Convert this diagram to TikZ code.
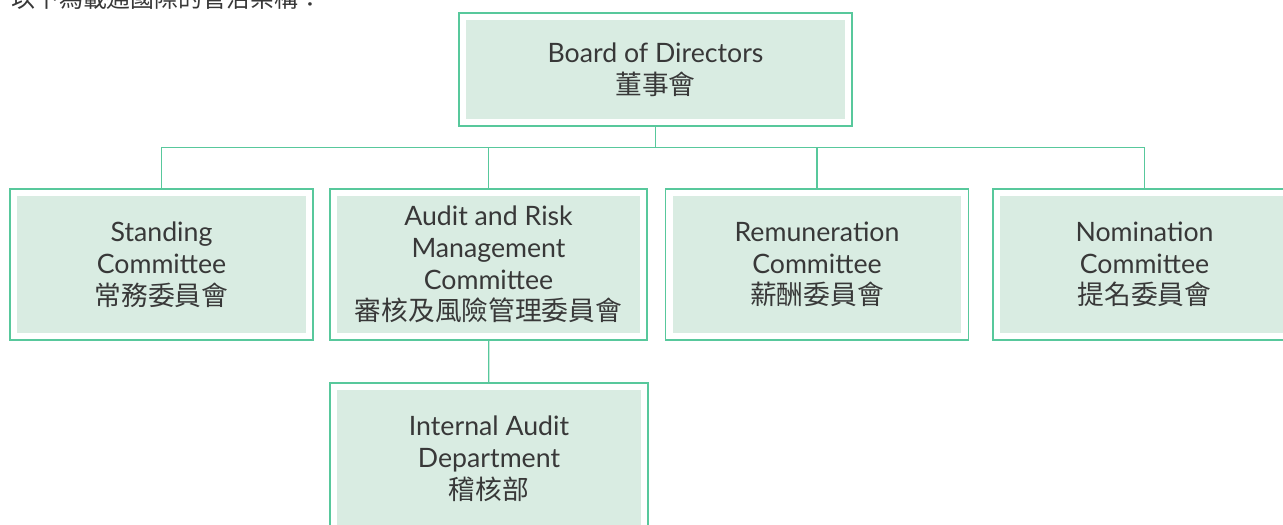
\documentclass[tikz,border=0pt]{standalone}
\usepackage{fontspec}
\setmainfont{Lato}
\newfontfamily\cjk{Noto Sans CJK TC}
\definecolor{boxline}{RGB}{88,200,156}
\definecolor{boxfill}{RGB}{217,236,226}
\definecolor{textgrey}{RGB}{56,56,56}

\begin{document}
\begin{tikzpicture}[x=0.02cm, y=-0.02cm,
		unit/.style={draw=boxline, line width=0.7pt, fill=white, align=center,
			text=textgrey, font=\fontsize{15.2}{18.1}\selectfont,
			minimum width=6.06cm, minimum height=3.02cm, inner sep=0pt,
			path picture={\fill[boxfill] ([shift={(4pt,4pt)}]path picture bounding box.south west)
				rectangle ([shift={(-4pt,-4pt)}]path picture bounding box.north east);}},
		link/.style={draw=boxline, line width=0.7pt}]
		\useasboundingbox (0,0) rectangle (1283,524);

		\node[anchor=base west, inner sep=0pt, text=textgrey, font=\cjk\fontsize{13.6}{16}\selectfont] (intro) at (11,7.5) {以下為載通國際的管治架構：};

		\node[unit, minimum width=7.86cm, minimum height=2.26cm] (board) at (655.5,69.5) {Board of Directors\\{\cjk 董事會}};
		\node[unit] (standing) at (161.5,264.5) {Standing\\Committee\\{\cjk 常務委員會}};
		\node[unit, minimum width=6.34cm] (audit) at (488.5,264.5) {Audit and Risk\\Management\\Committee\\{\cjk 審核及風險管理委員會}};
		\node[unit] (remuneration) at (817,264.5) {Remuneration\\Committee\\{\cjk 薪酬委員會}};
		\node[unit] (nomination) at (1144.5,264.5) {Nomination\\Committee\\{\cjk 提名委員會}};
		\node[unit, minimum width=6.36cm] (internal) at (489,458.5) {Internal Audit\\Department\\{\cjk 稽核部}};
		\coordinate (bus) at (655.5,147.5);

		\draw[link] (board) -- (bus);
		\draw[link] (bus) -| (standing);
		\draw[link] (bus) -| (audit);
		\draw[link] (bus) -| (remuneration);
		\draw[link] (bus) -| (nomination);
		\draw[link] (audit) -- (internal);
	\end{tikzpicture}
\end{document}
